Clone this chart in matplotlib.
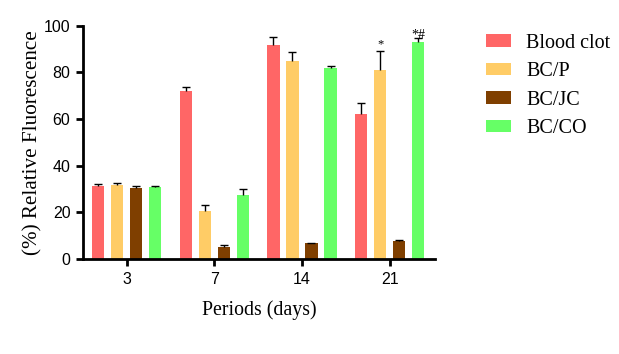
import numpy as np
import matplotlib
matplotlib.use('Agg')
import matplotlib.pyplot as plt

periods = ['3', '7', '14', '21']
groups = ['Blood clot', 'BC/P', 'BC/JC', 'BC/CO']
colors = ['#FF6666', '#FFCC66', '#7F3F00', '#66FF66']

blood_clot = [31.2, 72.0, 91.7, 62.1]
bc_p = [31.9, 20.5, 84.8, 81.2]
bc_jc = [30.3, 5.4, 6.7, 7.9]
bc_co = [30.8, 27.5, 81.8, 93.1]

blood_clot_err = [1.1, 1.9, 3.6, 4.8]
bc_p_err = [0.8, 2.9, 4.1, 8.0]
bc_jc_err = [0.9, 0.6, 0.3, 0.3]
bc_co_err = [0.4, 2.5, 1.0, 1.6]

values = [blood_clot, bc_p, bc_jc, bc_co]
errors = [blood_clot_err, bc_p_err, bc_jc_err, bc_co_err]

fig = plt.figure(figsize=(6.19, 3.54), dpi=100)
ax = fig.add_axes([0.134, 0.268, 0.569, 0.659])

x = np.arange(len(periods))
pitch = 0.217
width = 0.14
for i, (vals, errs, name, col) in enumerate(zip(values, errors, groups, colors)):
    pos = x + (i - 1.5) * pitch
    ax.bar(pos, vals, width, color=col, label=name, edgecolor='none')
    _, caps, _ = ax.errorbar(pos, vals, yerr=[np.zeros(len(errs)), errs], fmt='none',
                             ecolor='black', elinewidth=1, capsize=3, capthick=1)
    caps[0].set_visible(False)  # only the upper cap

# significance marks at day 21
ax.text(x[3] - 0.5 * pitch, bc_p[3] + bc_p_err[3] + 0.3, '*', ha='center', va='bottom',
        fontsize=9, family='Liberation Serif')
ax.text(x[3] + 1.5 * pitch, bc_co[3] + bc_co_err[3] - 1.8, '*#', ha='center', va='bottom',
        fontsize=10, family='Liberation Serif')

ax.set_xlim(-0.5, 3.52)
ax.set_ylim(0, 100)
ax.set_xticks(x)
ax.set_xticklabels(periods, family='Liberation Sans', fontsize=11.5)
ax.set_yticks(range(0, 101, 20))
ax.set_yticklabels([str(v) for v in range(0, 101, 20)], family='Liberation Sans', fontsize=11.5)
for side in ['top', 'right']:
    ax.spines[side].set_visible(False)
for side in ['left', 'bottom']:
    ax.spines[side].set_linewidth(2)
ax.tick_params(axis='both', width=2, length=5, direction='out', pad=4)

ax.set_xlabel('Periods (days)', family='Liberation Serif', fontsize=14.3, labelpad=10)
ax.set_ylabel('(%) Relative Fluorescence', family='Liberation Serif', fontsize=15.2, labelpad=1)

ax.legend(loc='upper left', bbox_to_anchor=(0.785, 0.905), bbox_transform=fig.transFigure,
          frameon=False, borderpad=0, borderaxespad=0,
          prop={'family': 'Liberation Serif', 'size': 14.5},
          handlelength=1.25, handleheight=0.6, handletextpad=0.75, labelspacing=0.47)

fig.savefig('out.png', dpi=100)
